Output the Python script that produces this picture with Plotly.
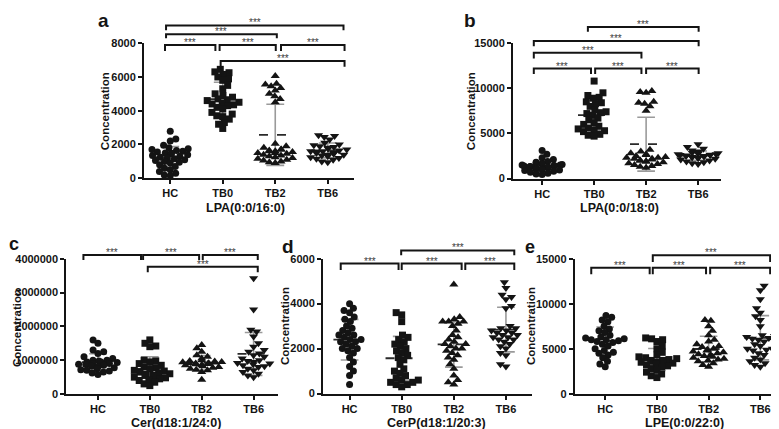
import math
import numpy as np
import plotly.graph_objects as go

categories = ["HC", "TB0", "TB2", "TB6"]

# ---- a: LPA(0:0/16:0)
lpa16_hc = [2780, 2330, 2200, 1950, 1800, 1750, 1700, 1650, 1600, 1550, 1500, 1480, 1450, 1400, 1350,
            1300, 1250, 1200, 1150, 1100, 1050, 1000, 950, 900, 800, 700, 600, 500, 400, 300, 200, 150]
lpa16_tb0 = [6450, 6300, 6250, 6150, 6000, 5900, 5800, 5500, 5300, 5000, 4900, 4800, 4700, 4650, 4600,
             4500, 4450, 4400, 4350, 4300, 4200, 4100, 3900, 3800, 3700, 3650, 3500, 3300, 3200, 2950]
lpa16_tb2 = [6050, 5600, 5550, 5450, 5350, 5200, 5000, 4850, 4700, 4500,
             2050, 1900, 1800, 1700, 1700, 1650, 1600, 1600, 1550, 1500, 1500, 1450, 1400, 1350, 1300,
             1250, 1200, 1150, 1100, 1050, 1000, 950, 900]
lpa16_tb6 = [2550, 2500, 2450, 2300, 2100, 2000, 1950, 1900, 1850, 1800, 1750, 1700, 1650, 1600, 1600,
             1550, 1500, 1500, 1450, 1400, 1400, 1350, 1300, 1250, 1200, 1150, 1100, 1000, 950]

# ---- b: LPA(0:0/18:0)
lpa18_hc = [3100, 2700, 2300, 2100, 1900, 1800, 1700, 1650, 1600, 1550, 1500, 1500, 1450, 1400, 1400,
            1350, 1300, 1250, 1200, 1150, 1100, 1050, 1000, 950, 900, 800, 700, 600, 500, 450]
lpa18_tb0 = [10800, 9500, 9200, 9000, 8900, 8500, 8400, 8300, 8000, 7600, 7400, 7300, 7200, 7000, 6700,
             6500, 6200, 6000, 5800, 5600, 5500, 5400, 5300, 5200, 4900, 4800, 4700]
lpa18_tb2 = [9700, 9600, 9500, 8500, 8400, 8300, 8000, 7500,
             3200, 3000, 2800, 2700, 2600, 2500, 2400, 2300, 2300, 2200, 2200, 2100, 2000, 2000, 1900,
             1900, 1800, 1700, 1600, 1500, 1400, 1300, 1200]
lpa18_tb6 = [3800, 3500, 3300, 3100, 3000, 2900, 2850, 2800, 2750, 2700, 2700, 2650, 2600, 2600, 2550,
             2500, 2500, 2450, 2400, 2350, 2300, 2250, 2200, 2100, 2000, 1900, 1800, 1700, 1600]

# ---- c: Cer(d18:1/24:0)
cer_hc = [1600000, 1500000, 1300000, 1250000, 1200000, 1100000, 1050000, 1000000, 1000000, 980000,
          950000, 950000, 930000, 900000, 900000, 880000, 870000, 850000, 820000, 800000, 780000,
          750000, 720000, 700000, 680000, 650000, 620000, 580000]
cer_tb0 = [1600000, 1500000, 1420000, 1400000, 1000000, 980000, 950000, 900000, 850000, 800000,
           780000, 750000, 700000, 680000, 650000, 620000, 600000, 580000, 560000, 550000, 520000,
           500000, 480000, 450000, 420000, 400000, 350000, 300000, 250000]
cer_tb2 = [1450000, 1350000, 1250000, 1150000, 1100000, 1050000, 1000000, 980000, 960000, 950000,
           940000, 930000, 920000, 910000, 900000, 890000, 880000, 860000, 850000, 820000, 800000,
           780000, 750000, 720000, 700000, 650000, 420000]
cer_tb6 = [3420000, 2500000, 1900000, 1850000, 1700000, 1500000, 1400000, 1300000, 1250000, 1200000,
           1150000, 1100000, 1050000, 1000000, 980000, 950000, 920000, 900000, 880000, 850000,
           820000, 800000, 750000, 700000, 650000, 600000, 550000, 500000]

# ---- d: CerP(d18:1/20:3)
cerp_hc = [4000, 3800, 3700, 3600, 3400, 3300, 3200, 3000, 2900, 2800, 2700, 2600, 2600, 2500, 2400,
           2400, 2300, 2300, 2200, 2100, 2000, 2000, 1900, 1800, 1600, 1400, 1200, 1000, 800, 400]
cerp_tb0 = [3600, 3500, 3200, 2600, 2500, 2400, 2300, 2200, 2100, 2000, 1900, 1800, 1700, 1600, 1500,
            1300, 1100, 1000, 900, 800, 700, 600, 600, 500, 500, 400, 400, 300]
cerp_tb2 = [4850, 3400, 3300, 3200, 3200, 3200, 3100, 3000, 2800, 2600, 2500, 2400, 2300, 2200, 2200,
            2100, 2000, 2000, 1900, 1800, 1700, 1600, 1500, 1300, 1100, 800, 600, 500, 400]
cerp_tb6 = [4950, 4700, 4400, 4300, 4200, 3900, 3800, 3000, 2900, 2900, 2800, 2800, 2700, 2700, 2600,
            2600, 2500, 2500, 2400, 2400, 2300, 2200, 2100, 2000, 1800, 1700, 1300, 1200]

# ---- e: LPE(0:0/22:0)
lpe_hc = [8700, 8500, 8200, 8000, 7500, 7200, 7000, 6800, 6500, 6300, 6200, 6100, 6000, 6000, 5900,
          5800, 5700, 5500, 5300, 5000, 4800, 4600, 4500, 4300, 4000, 3600, 3300, 3000]
lpe_tb0 = [6200, 6100, 6000, 5800, 5300, 5000, 4600, 4300, 4100, 4000, 3900, 3800, 3700, 3700, 3600,
           3600, 3500, 3500, 3400, 3300, 3200, 3100, 3000, 2800, 2600, 2400, 2200, 2000, 1800]
lpe_tb2 = [8200, 8100, 7500, 7000, 6500, 6000, 5800, 5500, 5300, 5200, 5000, 4900, 4800, 4700, 4600,
           4500, 4400, 4300, 4200, 4100, 4000, 3900, 3800, 3700, 3600, 3400, 3200, 3000]
lpe_tb6 = [12000, 11500, 10500, 9500, 9000, 8600, 8200, 7500, 6500, 6400, 6300, 6200, 6100, 6000, 5800,
           5500, 5300, 5000, 5000, 4900, 4800, 4500, 4300, 4000, 3800, 3600, 3400, 3200, 3000]

panel_titles = ["LPA(0:0/16:0)", "LPA(0:0/18:0)", "Cer(d18:1/24:0)", "CerP(d18:1/20:3)", "LPE(0:0/22:0)"]
panel_letters = ["a", "b", "c", "d", "e"]
panel_values = [
    [lpa16_hc, lpa16_tb0, lpa16_tb2, lpa16_tb6],
    [lpa18_hc, lpa18_tb0, lpa18_tb2, lpa18_tb6],
    [cer_hc, cer_tb0, cer_tb2, cer_tb6],
    [cerp_hc, cerp_tb0, cerp_tb2, cerp_tb6],
    [lpe_hc, lpe_tb0, lpe_tb2, lpe_tb6],
]
y_ticks = [
    [0, 2000, 4000, 6000, 8000],
    [0, 5000, 10000, 15000],
    [0, 1000000, 2000000, 3000000, 4000000],
    [0, 2000, 4000, 6000],
    [0, 5000, 10000, 15000],
]
# significance comparisons (group index pairs), all "***"
comparisons = [
    [(0, 1), (1, 2), (2, 3), (1, 3), (0, 2), (0, 3)],
    [(0, 1), (1, 2), (2, 3), (0, 2), (0, 3), (1, 3)],
    [(0, 1), (1, 2), (2, 3), (1, 3)],
    [(0, 1), (1, 2), (2, 3), (1, 3)],
    [(0, 1), (1, 2), (2, 3), (1, 3)],
]

# ---------------- layout geometry (pixels of 779x429 canvas) ----------------
W, H = 779, 429
geom = [
    dict(x0=136, x1=346, xr=[-0.5, 3.5], yb=169, yt=30, bt=5),
    dict(x0=505, x1=713, xr=[-0.56, 3.44], yb=169.3, yt=30, bt=5),
    dict(x0=58.3, x1=270, xr=[-0.61, 3.47], yb=391, yt=251.7, bt=238),
    dict(x0=315, x1=524, xr=[-0.51, 3.5], yb=390.5, yt=251.7, bt=238),
    dict(x0=566.7, x1=775.6, xr=[-0.59, 3.45], yb=390.7, yt=251.7, bt=238),
]
# bracket geometry in axis units: (x_left, x_right, y_line, y_leg_bottom), same order as comparisons
bracket_geom = [
    [(-0.10, 0.86, 7885, 7540), (0.94, 2.01, 7885, 7540), (2.11, 3.32, 7885, 7540),
     (0.96, 3.32, 6946, 6600), (-0.08, 2.03, 8535, 8287), (-0.08, 3.30, 9053, 8765)],
    [(-0.16, 0.94, 12190, 11590), (1.02, 1.91, 12190, 11590), (2.0, 3.01, 12190, 11590),
     (-0.16, 1.91, 13925, 13310), (-0.16, 3.01, 15250, 14650), (0.88, 3.01, 16800, 16260)],
    [(-0.28, 0.83, 4106000, 3962000), (0.87, 1.95, 4106000, 3962000), (2.02, 3.08, 4106000, 3962000),
     (0.96, 3.08, 3761000, 3597000)],
    [(-0.17, 0.94, 5784, 5498), (1.0, 2.15, 5784, 5498), (2.22, 3.16, 5784, 5498),
     (0.99, 3.16, 6364, 6147)],
    [(-0.27, 0.86, 13995, 13270), (0.92, 1.95, 13995, 13270), (2.03, 3.19, 13995, 13270),
     (0.92, 3.19, 15365, 14640)],
]
ytitle_pos = [(97, 100), (463, 100), (9, 323), (277, 321), (523, 321)]
xtitle_pos = [(237, 200), (611, 200), (168, 421), (428.5, 421), (676, 421)]
letter_pos = [(95, 7, "center", 19), (462, 7, "center", 19), (0, 237, "left", 18),
              (280, 239, "center", 19), (522, 240, "center", 18)]

symbols = ["circle", "square", "triangle-up", "triangle-down"]
msizes = [7, 7, 8, 8]
FONT = "Liberation Sans, Arial, Helvetica, sans-serif"
INK = "#141414"


def swarm(vals, ymax, d=6.0, maxw=20.0, h=139.0, unit=52.0):
    n = len(vals)
    ys = [v / ymax * h for v in vals]
    order = sorted(range(n), key=lambda i: ys[i])
    placed = []
    xs = [0.0] * n
    for k, i in enumerate(order):
        y = ys[i]
        iv = []
        for (px, py) in placed:
            dy = abs(py - y)
            if dy < d:
                dx = math.sqrt(d * d - dy * dy)
                iv.append((px - dx, px + dx))
        sgn = 1 if k % 2 else -1
        cands = [0.0] + [a for a, _ in iv] + [b for _, b in iv]
        cands.sort(key=lambda c: (round(abs(c), 6), sgn * c))
        best = None
        for c in cands:
            if abs(c) > maxw + 1e-9:
                continue
            if all(not (a + 1e-6 < c < b - 1e-6) for a, b in iv):
                best = c
                break
        if best is None:
            grid = np.linspace(-maxw, maxw, 41)
            best = min(grid, key=lambda c: (sum(1 for a, b in iv if a < c < b), abs(c)))
        xs[i] = best / unit
        placed.append((best, y))
    return xs


fig = go.Figure()
layout = dict(
    width=W, height=H, margin=dict(l=0, r=0, t=0, b=0),
    paper_bgcolor="white", plot_bgcolor="rgba(0,0,0,0)", showlegend=False,
    font=dict(family=FONT, color=INK),
)
annotations = []

for p in range(5):
    g = geom[p]
    s = "" if p == 0 else str(p + 1)
    xa, ya, yb_name = "x" + s, "y" + s, "y" + str(p + 6)
    ymax = y_ticks[p][-1]
    h_px = g["yb"] - g["yt"]
    unit_px = (g["x1"] - g["x0"]) / (g["xr"][1] - g["xr"][0])
    ybot = 1 - g["yb"] / H
    ytop = 1 - g["yt"] / H
    ybrk = 1 - g["bt"] / H
    brk_range_top = ymax * (g["yb"] - g["bt"]) / h_px

    # mean & SD lines (drawn below markers)
    mx, my, sx, sy = [], [], [], []
    for gi, vals in enumerate(panel_values[p]):
        m = float(np.mean(vals))
        sd = float(np.std(vals, ddof=1))
        mx += [gi - 0.31, gi + 0.31, None]
        my += [m, m, None]
        sx += [gi, gi, None, gi - 0.17, gi + 0.17, None, gi - 0.17, gi + 0.17, None]
        sy += [m - sd, m + sd, None, m + sd, m + sd, None, m - sd, m - sd, None]
    fig.add_trace(go.Scatter(x=sx, y=sy, mode="lines", xaxis=xa, yaxis=ya,
                             line=dict(color="#9a9a9a", width=1.6), hoverinfo="skip"))
    fig.add_trace(go.Scatter(x=mx, y=my, mode="lines", xaxis=xa, yaxis=ya,
                             line=dict(color="#2a2a2a", width=1.8, dash="dash"), hoverinfo="skip"))

    for gi, vals in enumerate(panel_values[p]):
        offs = swarm(vals, ymax, h=h_px, unit=unit_px)
        fig.add_trace(go.Scatter(
            x=[gi + o for o in offs], y=vals, mode="markers", xaxis=xa, yaxis=ya,
            marker=dict(symbol=symbols[gi], size=msizes[gi], color=INK, line=dict(width=0)),
            cliponaxis=False, name=categories[gi]))

    # brackets
    bx, by = [], []
    for (xl, xr, yl, yleg) in bracket_geom[p]:
        bx += [xl, xl, xr, xr, None]
        by += [yleg, yl, yl, yleg, None]
        annotations.append(dict(x=(xl + xr) / 2, y=yl, xref=xa, yref=yb_name, text="***",
                                showarrow=False, yanchor="bottom", yshift=-5,
                                font=dict(size=10, color="#3a3a3a", family=FONT)))
    fig.add_trace(go.Scatter(x=bx, y=by, mode="lines", xaxis=xa, yaxis=yb_name,
                             line=dict(color=INK, width=2), hoverinfo="skip"))

    axis_common = dict(showline=True, linewidth=2, linecolor=INK, ticks="outside", ticklen=4,
                       tickwidth=2, tickcolor=INK, showgrid=False, zeroline=False,
                       tickfont=dict(family=FONT, size=11, color=INK, weight="bold"))
    layout["xaxis" + s] = dict(domain=[g["x0"] / W, g["x1"] / W], range=g["xr"], anchor=ya,
                               tickmode="array", tickvals=[0, 1, 2, 3], ticktext=categories,
                               **axis_common)
    layout["yaxis" + s] = dict(domain=[ybot, ytop], range=[0, ymax], anchor=xa,
                               tickmode="array", tickvals=y_ticks[p],
                               ticktext=[str(v) for v in y_ticks[p]], **axis_common)
    layout["yaxis" + str(p + 6)] = dict(domain=[ybot, ybrk], range=[0, brk_range_top], anchor=xa,
                                        visible=False, showgrid=False, zeroline=False)

    tx, ty = ytitle_pos[p]
    annotations.append(dict(x=tx / W, y=1 - ty / H, xref="paper", yref="paper", text="Concentration",
                            textangle=-90, showarrow=False, xanchor="center", yanchor="middle",
                            font=dict(size=11.5, color=INK, family=FONT, weight="bold")))
    tx, ty = xtitle_pos[p]
    annotations.append(dict(x=tx / W, y=1 - ty / H, xref="paper", yref="paper", text=panel_titles[p],
                            showarrow=False, xanchor="center", yanchor="middle",
                            font=dict(size=12.5, color=INK, family=FONT, weight="bold")))
    tx, ty, anc, fs = letter_pos[p]
    annotations.append(dict(x=tx / W, y=1 - ty / H, xref="paper", yref="paper", text=panel_letters[p],
                            showarrow=False, xanchor=anc, yanchor="middle", borderpad=0,
                            font=dict(size=fs, color=INK, family=FONT, weight="bold")))

layout["annotations"] = annotations
fig.update_layout(**layout)
fig.write_html("out.html")
